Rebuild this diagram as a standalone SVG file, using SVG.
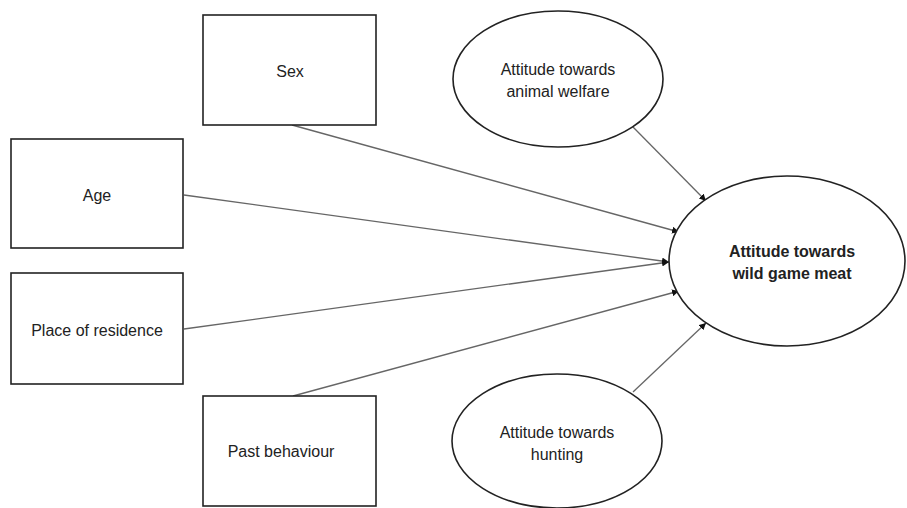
<svg xmlns="http://www.w3.org/2000/svg" width="907" height="508" viewBox="0 0 907 508">
<style>
.box{fill:#fff;stroke:#222;stroke-width:1.6}
.ell{fill:#fff;stroke:#222;stroke-width:1.6}
.t{font-family:"Liberation Sans",Arial,sans-serif;font-size:16px;fill:#222;text-anchor:middle}
.b{font-weight:bold}
.c{stroke:#666;stroke-width:1.3;fill:none;marker-end:url(#ah)}
</style>
<defs>
<marker id="ah" viewBox="0 0 10 10" refX="10" refY="5" markerWidth="7" markerHeight="7" markerUnits="userSpaceOnUse" orient="auto">
<path d="M0,0 L10,5 L0,10 z" fill="#111"/>
</marker>
</defs>
<g id="connectors">
<line class="c" x1="292" y1="125" x2="679" y2="232"/>
<line class="c" x1="184" y1="195" x2="669" y2="262"/>
<line class="c" x1="184" y1="329" x2="669" y2="262"/>
<line class="c" x1="293" y1="396" x2="679" y2="291"/>
<line class="c" x1="633" y1="127" x2="706" y2="201"/>
<line class="c" x1="633" y1="392" x2="706" y2="323"/>
</g>
<g id="sex"><rect class="box" x="203" y="15" width="173" height="110"/><text class="t" x="290" y="77">Sex</text></g>
<g id="age"><rect class="box" x="11" y="139" width="172" height="109"/><text class="t" x="97" y="201">Age</text></g>
<g id="place"><rect class="box" x="11" y="273" width="172" height="111"/><text class="t" x="97" y="336">Place of residence</text></g>
<g id="past"><rect class="box" x="203" y="396" width="173" height="110"/><text class="t" x="281" y="457">Past behaviour</text></g>
<g id="welfare"><ellipse class="ell" cx="558" cy="79" rx="105" ry="68"/><text class="t" x="558" y="75">Attitude towards</text><text class="t" x="558" y="97">animal welfare</text></g>
<g id="hunting"><ellipse class="ell" cx="557" cy="441" rx="105" ry="67"/><text class="t" x="557" y="438">Attitude towards</text><text class="t" x="557" y="460">hunting</text></g>
<g id="meat"><ellipse class="ell" cx="787" cy="261" rx="118" ry="85"/><text class="t b" x="792" y="257">Attitude towards</text><text class="t b" x="792" y="279">wild game meat</text></g>
</svg>
